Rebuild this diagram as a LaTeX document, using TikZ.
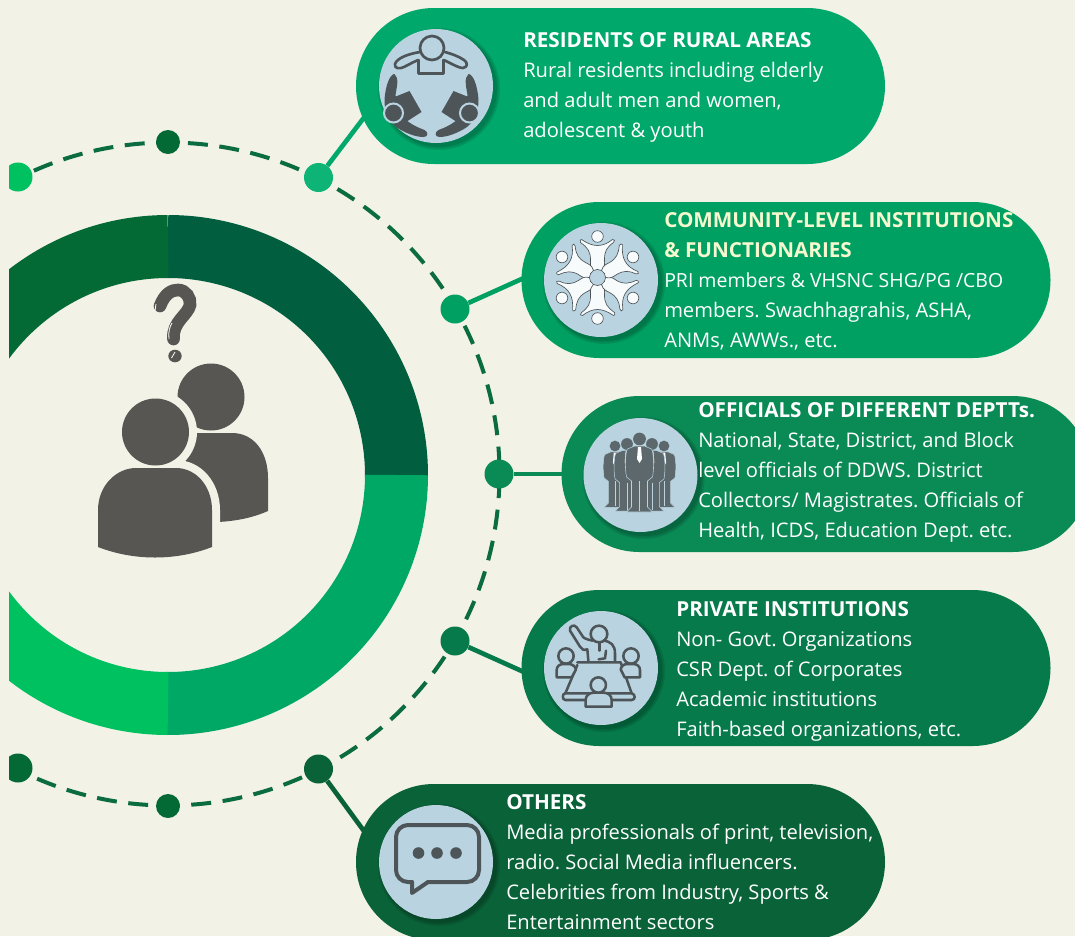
\documentclass[tikz,border=0pt]{standalone}
\usepackage{fontspec}
\setmainfont{Open Sans}
\frenchspacing
\definecolor{pagebg}{HTML}{F3F2E7}
\definecolor{iconblue}{HTML}{B9D4E0}
\definecolor{icongrey}{HTML}{4D5559}
\definecolor{persongrey}{HTML}{575652}
\definecolor{creamtext}{HTML}{F6F8CF}
\definecolor{greenA}{HTML}{00A86B}
\definecolor{greenB}{HTML}{00A062}
\definecolor{greenC}{HTML}{0A8A55}
\definecolor{greenD}{HTML}{067A4A}
\definecolor{greenE}{HTML}{0A6239}
\definecolor{dotA}{HTML}{0DB475}
\definecolor{dashgreen}{HTML}{0B6B41}
\definecolor{ringtl}{HTML}{046A35}
\definecolor{ringtr}{HTML}{015F40}
\definecolor{ringbr}{HTML}{00A866}
\definecolor{ringbl}{HTML}{00C15F}
\tikzset{
  ringpart/.style={line width=47.25pt},
  ringdot/.style={circle, minimum size=21.75pt, inner sep=0pt},
  smalldot/.style={circle, minimum size=18pt, inner sep=0pt},
  link/.style={line width=3.5pt},
  pill/.style={rectangle, rounded corners=58.4pt, minimum width=396.75pt, minimum height=117pt, inner sep=0pt},
  iconbg/.style={circle, fill=iconblue, minimum size=85.5pt, inner sep=0pt},
  blurb/.style={anchor=north west, inner sep=0pt, align=left, text=white, font=\fontsize{15.1pt}{22.5pt}\selectfont},
  iconline/.style={draw=icongrey, line width=1.9pt, line join=round, line cap=round}
}
\newcommand{\blurbhead}[1]{{\fontsize{15.5pt}{22.5pt}\selectfont\bfseries #1}}
\newcommand{\iconshadow}[2]{%
  \foreach \grow in {0,1.5,3}
    \fill[black, opacity=0.09] (#1+3,#2+3) circle (58+\grow);
}
\begin{document}
\begin{tikzpicture}[x=0.75pt, y=-0.75pt]
\clip (0,0) rectangle (1075,936);
\fill[pagebg] (0,0) rectangle (1075,936);

% ring, dashes and dots
\begin{scope}
\clip (9,0) rectangle (1075,936);
\draw[ringpart, ringtr] (168,475) +(-90:228.5) arc (-90:0.3:228.5);
\draw[ringpart, ringbr] (168,475) +(0:228.5) arc (0:90.3:228.5);
\draw[ringpart, ringbl] (168,475) +(90:228.5) arc (90:180:228.5);
\draw[ringpart, ringtl] (168,475) +(180:228.5) arc (180:270:228.5);
\draw[dashgreen, line width=3pt, dash pattern=on 15pt off 8.67pt, dash phase=8.7pt] (168,474) +(-90:331.5) arc (-90:270:331.5);
\node[smalldot, fill=ringtl] (dottop) at (168,142) {};
\node[ringdot, fill=ringbl] (dotupleft) at (18,177) {};
\node[smalldot, fill=ringtl] (dotbottom) at (168,806) {};
\node[ringdot, fill=ringtl] (dotlowleft) at (18,768) {};
\end{scope}
\node[ringdot, fill=dotA] (dotrural) at (318.5,177.5) {};
\node[ringdot, fill=greenB] (dotcommunity) at (455,309) {};
\node[ringdot, fill=greenC] (dotofficials) at (499,474) {};
\node[ringdot, fill=greenD] (dotprivate) at (455,641) {};
\node[ringdot, fill=greenE] (dotothers) at (318.5,769) {};

% connectors
\coordinate (endrural) at (372,107);
\coordinate (endcommunity) at (535,273);
\coordinate (endofficials) at (570,474);
\coordinate (endprivate) at (535,677);
\coordinate (endothers) at (372,842);
\draw[link, greenA] (dotrural) -- (endrural);
\draw[link, greenB] (dotcommunity) -- (endcommunity);
\draw[link, greenC] (dotofficials) -- (endofficials);
\draw[link, greenD] (dotprivate) -- (endprivate);
\draw[link, greenE] (dotothers) -- (endothers);

% pills
\node[pill, fill=greenA] (pillrural) at (620.5,86) {};
\node[pill, fill=greenB] (pillcommunity) at (786,280) {};
\node[pill, fill=greenC] (pillofficials) at (826,474) {};
\node[pill, fill=greenD] (pillprivate) at (786,668) {};
\node[pill, fill=greenE] (pillothers) at (620.5,862) {};

% icon discs
\iconshadow{436}{86}
\iconshadow{601}{280}
\iconshadow{640.5}{475}
\iconshadow{601}{668}
\iconshadow{436}{862}
\node[iconbg] (iconrural) at (436,86) {};
\node[iconbg] (iconcommunity) at (601,280) {};
\node[iconbg] (iconofficials) at (640.5,475) {};
\node[iconbg] (iconprivate) at (601,668) {};
\node[iconbg] (iconothers) at (436,862) {};

% two persons and question mark
\fill[persongrey] (211,397) circle (33.5);
\fill[persongrey] (170,433) -- (232,433) .. controls (254,433) and (268,452) .. (268,478) -- (268,511) .. controls (252,518) and (236,521) .. (218,522) -- (170,522) -- cycle;
\draw[pagebg, line width=12pt] (155.5,432) circle (33.5);
\draw[pagebg, line width=12pt] (98,547) -- (98,510) .. controls (98,486) and (116,468) .. (136,468) -- (176,468) .. controls (196,468) and (212,486) .. (212,510) -- (212,547) .. controls (176,561) and (134,561) .. (98,547) -- cycle;
\fill[persongrey] (155.5,432) circle (33.5);
\fill[persongrey] (98,547) -- (98,510) .. controls (98,486) and (116,468) .. (136,468) -- (176,468) .. controls (196,468) and (212,486) .. (212,510) -- (212,547) .. controls (176,561) and (134,561) .. (98,547) -- cycle;
\draw[persongrey, line width=9.5pt, line cap=round] (160,306) .. controls (165,293) and (172,290) .. (178,290) .. controls (186,290) and (191,298) .. (190,305) .. controls (188,315) and (172,322) .. (173.5,339);
\fill[persongrey] (175,356) ellipse (6.7 and 6.3);
\draw[white, line width=0.6pt] (155,311) -- (156,304);
\draw[white, line width=0.6pt] (169,339) .. controls (168,332) and (170,326) .. (172,323);
\draw[white, line width=0.6pt] (171.5,358) -- (175,352);

% rural icon
\draw[iconline, line width=2pt] (432,48) circle (12);
\draw[iconline, line width=2pt] (420,52) .. controls (408,54) and (397,58) .. (395,64) .. controls (394,69) and (400,69) .. (404,67) .. controls (410,64) and (415,61) .. (418.5,60) -- (418.5,73.5) -- (443.5,73.5) -- (443.5,60) .. controls (449,62) and (458,68) .. (463,68) .. controls (468,67) and (468,63) .. (464,60) .. controls (458,56) and (452,54) .. (445,52);
\foreach \side in {1,-1} {
  \begin{scope}[shift={(431.5,0)}, xscale=\side]
  \fill[icongrey] (-37,74) .. controls (-41,74) and (-46,84) .. (-47,100) .. controls (-47,116) and (-40,124) .. (-34,128) .. controls (-26,133) and (-16,137) .. (-8,137) .. controls (-3,137) and (-3,132) .. (-7,130) .. controls (-18,126) and (-26,121) .. (-32,113) -- (-36,95) .. controls (-35,88) and (-32,78) .. (-37,74) -- cycle;
  \fill[icongrey] (-37,97) -- (-22,91) -- (-10,112) -- (-27,123) -- cycle;
  \draw[iconblue, line width=1.5pt, fill=icongrey] (-38,113) circle (9.5);
  \end{scope}
}

% community icon
\foreach \turn in {0,60,...,300} {
  \begin{scope}[shift={(597.5,277.5)}, rotate=\turn]
  \draw[icongrey, line width=0.5pt, fill=white!90!iconblue] (0,-41) circle (5.8);
  \draw[icongrey, line width=0.5pt, fill=white!90!iconblue] (-16,-38) .. controls (-10,-34) and (-5,-32) .. (0,-32) .. controls (5,-32) and (10,-34) .. (15,-38) .. controls (17,-39) and (18,-36) .. (16,-35) .. controls (9,-30) and (7,-26) .. (7,-18) .. controls (7,-14) and (8,-11) .. (4,-7) -- (0,-8) -- (-4,-7) .. controls (-8,-11) and (-7,-14) .. (-7,-18) .. controls (-7,-26) and (-10,-30) .. (-17,-35) .. controls (-18,-36) and (-17,-39) .. (-16,-38) -- cycle;
  \end{scope}
}

% officials icon
\foreach \px/\py/\sz in {615/446/0.84, 664/446/0.84, 627/444/0.92, 652/444/0.92, 639.5/439/1} {
  \begin{scope}[shift={(\px,\py)}, scale=\sz]
  \fill[icongrey!85!iconblue] (0,0) circle (6.4);
  \draw[iconblue, line width=0.4pt, fill=icongrey!85!iconblue] (-5,7) -- (-12,10) .. controls (-14,12) and (-15,28) .. (-13,38) -- (-8,42) -- (-8,68) -- (-13,73) -- (13,73) -- (8,68) -- (8,42) -- (13,38) .. controls (15,28) and (14,12) .. (12,10) -- (5,7) -- cycle;
  \draw[iconblue, line width=0.4pt] (0,42) -- (0,72);
  \fill[white] (-1.5,8) -- (1.5,8) -- (2.5,20) -- (0,24) -- (-2.5,20) -- cycle;
  \end{scope}
}

% private icon
\begin{scope}[shift={(520,590)}, x=0.25pt, y=-0.25pt]
\draw[iconline] (237,132) circle (25);
\draw[iconline] (205,212) -- (202,178) .. controls (190,182) and (185,178) .. (180,170) -- (150,122) .. controls (146,110) and (162,100) .. (170,112) -- (190,142) .. controls (198,148) and (210,150) .. (218,152);
\draw[iconline] (250,152) .. controls (272,154) and (285,165) .. (285,190) -- (285,212);
\draw[iconline] (238,160) -- (238,182);
\draw[iconline] (236,208) -- (255,205) -- (258,182);
\draw[iconline] (172,217) -- (302,217) -- (335,310);
\draw[iconline] (172,225) -- (136,310);
\draw[iconline] (136,310) -- (335,310) .. controls (347,312) and (347,330) .. (335,330) -- (136,330) .. controls (126,330) and (126,310) .. (136,310) -- cycle;
\draw[iconline] (138,198) circle (23);
\draw[iconline, fill=iconblue] (110,262) -- (110,240) .. controls (110,228) and (120,222) .. (130,222) -- (146,222) .. controls (156,222) and (165,228) .. (168,238) -- (155,262) -- cycle;
\draw[iconline] (333,198) circle (23);
\draw[iconline, fill=iconblue] (360,262) -- (360,240) .. controls (360,228) and (350,222) .. (340,222) -- (322,222) .. controls (312,222) and (304,228) .. (302,238) -- (314,262) -- cycle;
\draw[iconline, fill=iconblue] (197,350) -- (197,330) .. controls (197,316) and (208,308) .. (222,308) -- (250,308) .. controls (264,308) and (275,316) .. (275,330) -- (275,350) -- cycle;
\draw[iconline, fill=iconblue] (235,285) circle (23);
\end{scope}

% others icon
\draw[icongrey, line width=3pt, line cap=round, rounded corners=9pt] (412,882) -- (396,882) -- (396,825) -- (479,825) -- (479,882) -- (428,882);
\draw[icongrey, line width=3pt, line cap=round, line join=round] (428,882) -- (412,893) -- (412,882);
\foreach \bx in {418.5,437,456} \fill[icongrey] (\bx,853) circle (5.8);

% texts
\node[blurb] (textrural) at (523,32.5) {\blurbhead{RESIDENTS OF RURAL AREAS}\\Rural residents including elderly\\and adult men and women,\\adolescent \& youth};
\node[blurb] (textcommunity) at (664,212.5) {\color{creamtext}\blurbhead{COMMUNITY-LEVEL INSTITUTIONS}\\\color{creamtext}\blurbhead{\& FUNCTIONARIES}\\{\fontsize{14.6pt}{22.5pt}\selectfont PRI members \& VHSNC SHG/PG /CBO}\\members. Swachhagrahis, ASHA,\\ANMs, AWWs., etc.};
\node[blurb] (textofficials) at (698,402.5) {\blurbhead{OFFICIALS OF DIFFERENT DEPTTs.}\\National, State, District, and Block\\level officials of DDWS. District\\Collectors/ Magistrates. Officials of\\Health, ICDS, Education Dept. etc.};
\node[blurb] (textprivate) at (676,601.5) {\blurbhead{PRIVATE INSTITUTIONS}\\Non- Govt. Organizations\\CSR Dept. of Corporates\\Academic institutions\\Faith-based organizations, etc.};
\node[blurb] (textothers) at (506,794.5) {\blurbhead{OTHERS}\\Media professionals of print, television,\\radio. Social Media influencers.\\Celebrities from Industry, Sports \&\\Entertainment sectors};
\end{tikzpicture}
\end{document}
